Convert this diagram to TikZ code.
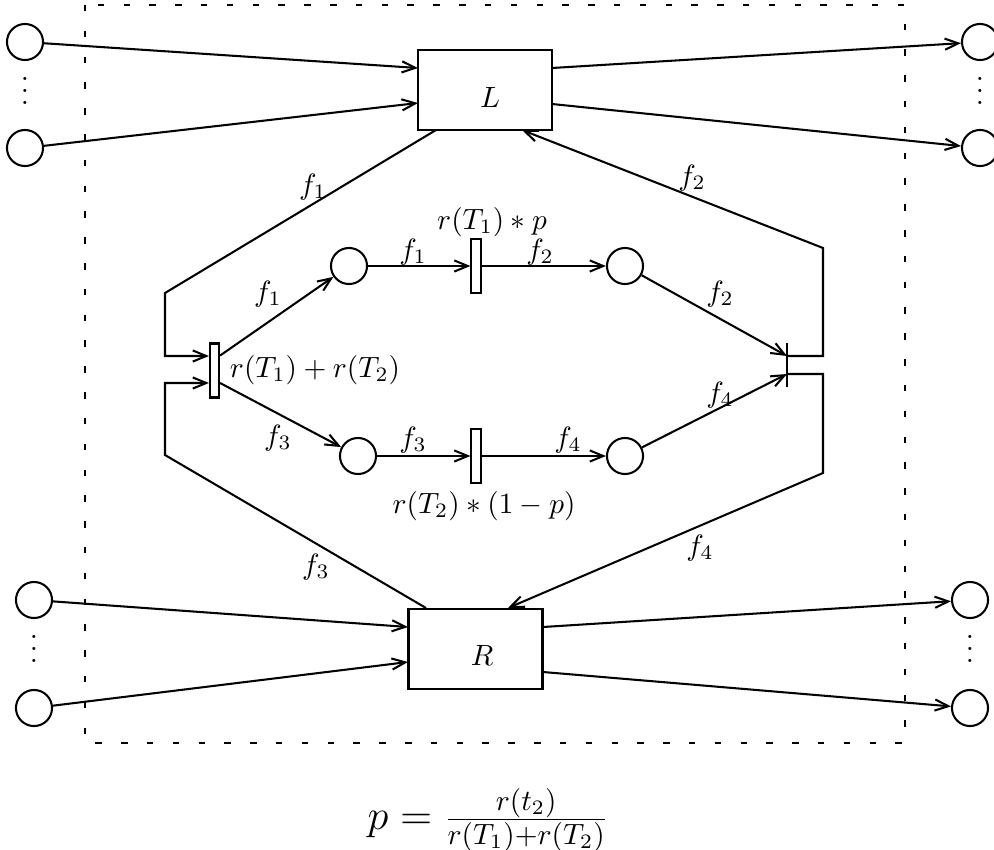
\documentclass[tikz,border=0pt]{standalone}
\usetikzlibrary{arrows.meta}
\begin{document}
\begin{tikzpicture}[x=0.341pt,y=-0.341pt, line width=0.7pt,
  arr/.style={-{Straight Barb[length=4.6pt,width=3.8pt,line width=0.7pt]}},
  place/.style={circle,draw,minimum size=12.3pt,inner sep=0pt},
  trans/.style={rectangle,draw,minimum width=3.1pt,minimum height=18.4pt,inner sep=0pt},
  box/.style={rectangle,draw,minimum width=45.7pt,minimum height=27.5pt,inner sep=0pt},
  dots/.style={inner sep=0pt},
  lab/.style={inner sep=1pt}]
\useasboundingbox (0,0) rectangle (994,849);
\draw[dash pattern=on 2.2pt off 6.6pt] (85,5) rectangle (905,743);

% boxes
\node[box] (L) at (485,90) {};
\node (Ltxt) at (490,97) {$L$};
\node[box] (R) at (475.5,649) {};
\node (Rtxt) at (482,655) {$R$};

% outer places
\node[place] (a1) at (25,42) {};
\node[place] (a2) at (25,148) {};
\node[dots] (ad) at (25,82) {$\vdots$};
\node[place] (b1) at (980,42) {};
\node[place] (b2) at (980,148) {};
\node[dots] (bd) at (980,82) {$\vdots$};
\node[place] (c1) at (34,600) {};
\node[place] (c2) at (34,708) {};
\node[dots] (cd) at (34,640) {$\vdots$};
\node[place] (d1) at (970,600) {};
\node[place] (d2) at (970,708) {};
\node[dots] (dd) at (970,640) {$\vdots$};

% box attachment points
\coordinate (Lw1) at (418,68);
\coordinate (Lw2) at (418,103);
\coordinate (Le1) at (552,68);
\coordinate (Le2) at (552,104);
\coordinate (Ls1) at (436,130);
\coordinate (Ls2) at (522,130);
\coordinate (Rw1) at (408,627);
\coordinate (Rw2) at (408,662);
\coordinate (Re1) at (543,627);
\coordinate (Re2) at (543,672);
\coordinate (Rn1) at (426,608);
\coordinate (Rn2) at (508,608);

\draw[arr] (a1) -- (Lw1);
\draw[arr] (a2) -- (Lw2);
\draw[arr] (Le1) -- (b1);
\draw[arr] (Le2) -- (b2);
\draw[arr] (c1) -- (Rw1);
\draw[arr] (c2) -- (Rw2);
\draw[arr] (Re1) -- (d1);
\draw[arr] (Re2) -- (d2);

% inner net
\node[place] (P1) at (349,266) {};
\node[place] (P2) at (625,266) {};
\node[place] (P3) at (358,456) {};
\node[place] (P4) at (625,456) {};
\node[trans] (T0) at (214.5,370.5) {};
\node[trans] (T1) at (476,266) {};
\node[trans] (T2) at (476,456) {};
\coordinate (T3top) at (787,343);
\coordinate (T3bot) at (787,387);
\coordinate (T3a) at (787,356);
\coordinate (T3b) at (787,374);
\draw (T3top) -- (T3bot);

\draw[arr] (Ls1) -- (165,293) -- (165,356) -- ([yshift=4.94pt]T0.west);
\draw[arr] (Rn1) -- (165,455) -- (165,383) -- ([yshift=-4.26pt]T0.west);
\draw[arr] ([yshift=5.1pt]T0.east) -- (P1);
\draw[arr] ([yshift=-4.26pt]T0.east) -- (P3);
\draw[arr] (P1) -- (T1);
\draw[arr] (T1) -- (P2);
\draw[arr] (P3) -- (T2);
\draw[arr] (T2) -- (P4);
\draw[arr] (P2) -- (T3a);
\draw[arr] (P4) -- (T3b);
\draw[arr] (T3a) -- (823,356) -- (823,248) -- (Ls2);
\draw[arr] (T3b) -- (823,374) -- (823,473) -- (Rn2);

% labels
\node[lab] at (313,187) {$f_1$};
\node[lab] at (316,567) {$f_3$};
\node[lab] at (692,178) {$f_2$};
\node[lab] at (700,548) {$f_4$};
\node[lab] at (268,294) {$f_1$};
\node[lab] at (278,438) {$f_3$};
\node[lab] at (413,252) {$f_1$};
\node[lab] at (540,252) {$f_2$};
\node[lab] at (413,440) {$f_3$};
\node[lab] at (568,440) {$f_4$};
\node[lab] at (720,294) {$f_2$};
\node[lab] at (720,395) {$f_4$};
\node[lab] at (492,222) {$r(T_1)*p$};
\node[lab] at (484,506) {$r(T_2)*(1-p)$};
\node[lab,anchor=west] at (226,370) {$r(T_1)+r(T_2)$};
\node at (488,820) {\Large $p = \frac{r(t_2)}{r(T_1)+r(T_2)}$};
\end{tikzpicture}
\end{document}
